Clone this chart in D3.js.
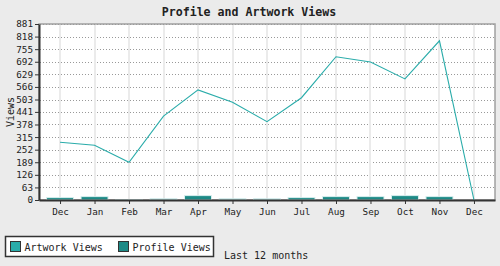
<!DOCTYPE html>
<html>
<head>
<meta charset="utf-8">
<script src="https://cdn.jsdelivr.net/npm/d3@7"></script>
<style>
  body { margin: 0; background: #ebebeb; }
  svg { display: block; font-family: "DejaVu Sans Mono", monospace; }
</style>
</head>
<body>
<svg id="canvas" width="500" height="266"></svg>
<script>
const months = ["Dec", "Jan", "Feb", "Mar", "Apr", "May", "Jun", "Jul", "Aug", "Sep", "Oct", "Nov", "Dec"]
const artworkViews = [289, 274, 189, 420, 551, 489, 392, 512, 717, 691, 606, 797, 0]
const profileViews = [12, 17, 1, 6, 22, 6, 6, 12, 17, 17, 22, 17, 0]
const yTicks = [0, 63, 126, 189, 252, 315, 378, 441, 503, 566, 629, 692, 755, 818, 881]

let canvas = d3.select("#canvas")

const plotLeft = 39, plotRight = 495, plotTop = 24, plotBottom = 200

// point scale, indexed so the two Decembers stay separate
let x = d3.scalePoint()
          .domain(months.map((d, i) => i))
          .range([plotLeft, plotRight])
          .padding(0.61)

let y = d3.scaleLinear()
          .domain([0, 881])
          .range([plotBottom, plotTop])

// plot area
canvas.append("rect")
      .attr("x", plotLeft)
      .attr("y", plotTop)
      .attr("width", plotRight - plotLeft)
      .attr("height", plotBottom - plotTop)
      .attr("fill", "white")
      .attr("stroke", "#a0a0a0")
      .attr("stroke-width", 1.5)

// horizontal dotted grid
canvas.selectAll(".hgrid")
      .data(yTicks.slice(1))
      .enter()
      .append("line")
      .attr("class", "hgrid")
      .attr("x1", plotLeft + 1)
      .attr("x2", plotRight - 1)
      .attr("y1", (d) => Math.round(y(d)) + 0.5)
      .attr("y2", (d) => Math.round(y(d)) + 0.5)
      .attr("stroke", "#999")
      .attr("stroke-dasharray", "1,2")

// vertical grid
canvas.selectAll(".vgrid")
      .data(months.map((d, i) => i))
      .enter()
      .append("line")
      .attr("class", "vgrid")
      .attr("x1", (d) => Math.round(x(d)))
      .attr("x2", (d) => Math.round(x(d)))
      .attr("y1", plotTop + 1)
      .attr("y2", plotBottom)
      .attr("stroke", "#ebebeb")
      .attr("stroke-width", 2)

// profile view bars
canvas.selectAll(".bar")
      .data(profileViews)
      .enter()
      .append("rect")
      .attr("class", "bar")
      .attr("x", (d, i) => x(i) - 13.5)
      .attr("y", (d) => y(d))
      .attr("width", 27)
      .attr("height", (d) => plotBottom - y(d))
      .attr("fill", "#1e8a86")
      .attr("stroke", "#d8eeee")
      .attr("stroke-width", 1)

// artwork views line
let line = d3.line()
             .x((d, i) => x(i))
             .y((d) => y(d))

canvas.append("path")
      .datum(artworkViews)
      .attr("d", line)
      .attr("fill", "none")
      .attr("stroke", "#2aacaa")
      .attr("stroke-width", 1.1)

// axes
let yAxis = d3.axisLeft(y).tickValues(yTicks).tickSize(4).tickPadding(2).tickSizeOuter(0)
let gy = canvas.append("g")
               .attr("transform", `translate(${plotLeft},0)`)
               .call(yAxis)
gy.select(".domain").attr("stroke", "#333").attr("stroke-width", 2)
gy.selectAll("line").attr("stroke", "#333")
gy.selectAll("text").attr("font-size", 9.3).attr("fill", "#222").attr("font-family", "DejaVu Sans Mono")

let xAxis = d3.axisBottom(x).tickFormat((i) => months[i]).tickSize(4).tickSizeOuter(0)
let gx = canvas.append("g")
               .attr("transform", `translate(0,${plotBottom})`)
               .call(xAxis)
gx.select(".domain").attr("stroke", "#333").attr("stroke-width", 2)
gx.selectAll("line").attr("stroke", "#333")
gx.selectAll("text").attr("font-size", 9.3).attr("fill", "#222").attr("font-family", "DejaVu Sans Mono").attr("dy", "0.85em")

// title
canvas.append("text")
      .attr("x", 249)
      .attr("y", 16)
      .attr("text-anchor", "middle")
      .attr("font-size", 11.6)
      .attr("font-weight", "bold")
      .attr("fill", "#222")
      .text("Profile and Artwork Views")

// y label
canvas.append("text")
      .attr("transform", "translate(13.5,112) rotate(-90)")
      .attr("text-anchor", "middle")
      .attr("font-size", 10)
      .attr("fill", "#222")
      .text("Views")

// legend
const legendInfo = [
  {text: "Artwork Views", color: "#2aacaa", x: 10},
  {text: "Profile Views", color: "#1e8a86", x: 118},
]

canvas.append("rect")
      .attr("x", 5.5)
      .attr("y", 236.5)
      .attr("width", 208)
      .attr("height", 20)
      .attr("fill", "white")
      .attr("stroke", "#333")
      .attr("stroke-width", 1.5)

let g = canvas.selectAll(".legend")
              .data(legendInfo)
              .enter()
              .append("g")
              .attr("class", "legend")

g.append("rect")
 .attr("x", (d) => d.x + 0.5)
 .attr("y", 241.5)
 .attr("width", 10)
 .attr("height", 10)
 .attr("fill", (d) => d.color)
 .attr("stroke", "#333")

g.append("text")
 .attr("x", (d) => d.x + 14.5)
 .attr("y", 250.5)
 .attr("font-size", 10)
 .attr("fill", "#222")
 .text((d) => d.text)

canvas.append("text")
      .attr("x", 224)
      .attr("y", 259)
      .attr("font-size", 10)
      .attr("fill", "#222")
      .text("Last 12 months")
</script>
</body>
</html>
